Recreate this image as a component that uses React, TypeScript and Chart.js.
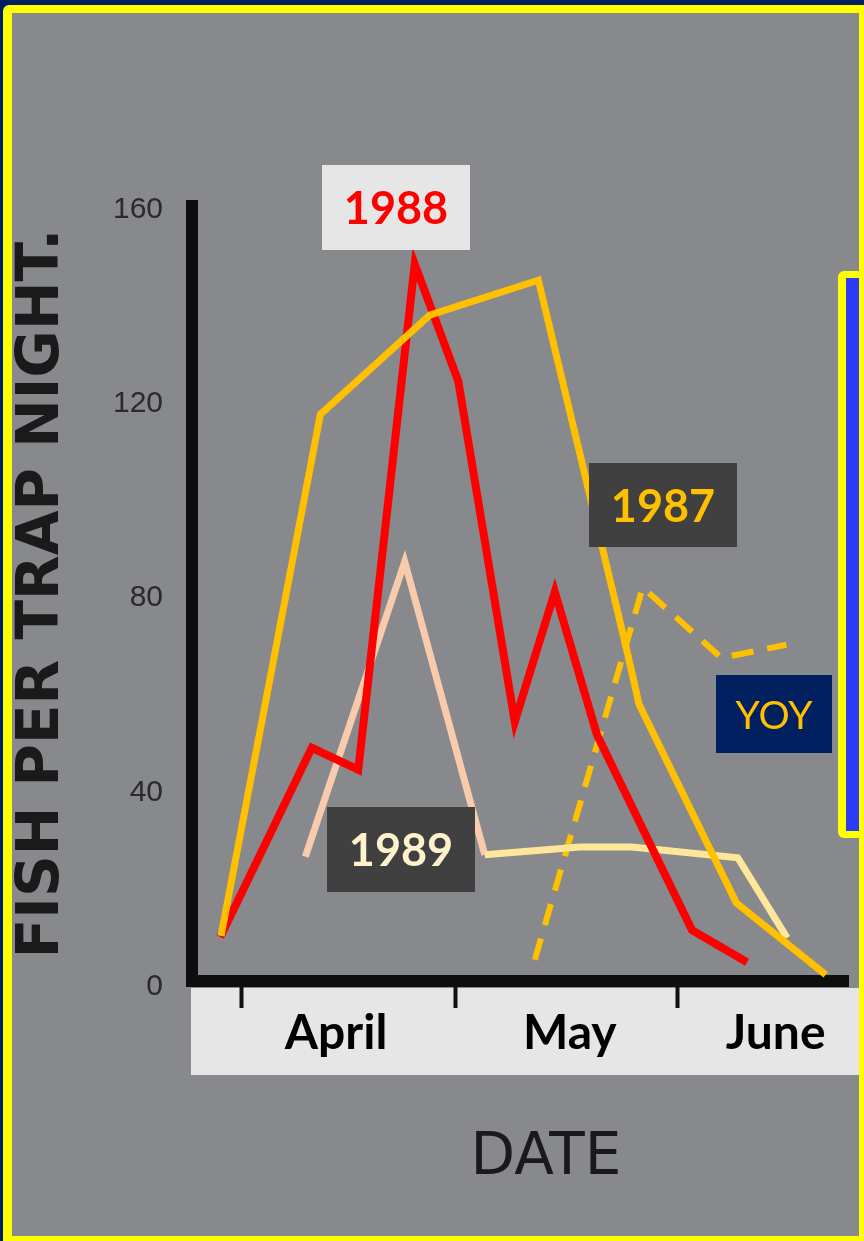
import { useEffect, useRef } from 'react';
import { Chart, registerables } from 'chart.js';

Chart.register(...registerables);

// x values are days counted from 1 April
const monthStartDays = [0, 30, 61];
const monthNames = ['April', 'May', 'June'];
const monthLabelDays = [13.3, 46.0, 74.8];
const yTickValues = [0, 40, 80, 120, 160];

const days1987 = [-2.8, 11.1, 26.4, 41.6, 53.7, 55.7, 69.3, 81.8];
const fish1987 = [10.5, 117.8, 138.2, 145.4, 71.0, 58.1, 17.3, 2.5];

const days1988 = [-2.9, 9.9, 16.4, 24.3, 30.4, 38.3, 43.9, 49.8, 63.1, 70.8];
const fish1988 = [10.3, 49.2, 44.7, 148.7, 124.6, 54.6, 81.3, 51.9, 11.7, 5.1];

const days1989 = [9.0, 22.9, 34.1, 47.4, 54.7, 69.5, 76.4];
const fish1989 = [26.8, 87.5, 27.2, 28.8, 28.8, 26.6, 10.1];

const daysYOY = [41.1, 56.2, 67.2, 76.3];
const fishYOY = [5.6, 82.2, 67.7, 70.4];

const X_MIN = -6.86;
const X_MAX = 85.06;
const Y_MIN = 0;
const Y_MAX = 161.9;

const pts = (xs: number[], ys: number[]) => xs.map((x, i) => ({ x, y: ys[i] }));

export default function App() {
  const ref = useRef<HTMLCanvasElement>(null);

  useEffect(() => {
    const canvas = ref.current;
    if (!canvas) return;

    const framePlugin = {
      id: 'frame',
      beforeDraw(chart: any) {
        const { ctx, width, height } = chart;
        ctx.save();
        ctx.fillStyle = '#002060';
        ctx.fillRect(0, 0, width, height);
        ctx.fillStyle = '#ffff00';
        ctx.beginPath();
        ctx.roundRect(3, 5, width + 10, height + 10, 6);
        ctx.fill();
        ctx.fillStyle = '#87898d';
        ctx.fillRect(12, 13, 847, 1223);
        // month label band
        ctx.fillStyle = '#e6e6e6';
        ctx.fillRect(191, 988, 668, 87);
        // blue side panel
        ctx.fillStyle = '#ffff00';
        ctx.beginPath();
        ctx.roundRect(838, 271, 40, 567, 6);
        ctx.fill();
        ctx.fillStyle = '#2a3df5';
        ctx.fillRect(846, 278, 13, 553);
        ctx.restore();
      },
      beforeDatasetsDraw(chart: any) {
        const { ctx, chartArea: ca } = chart;
        ctx.save();
        ctx.fillStyle = '#0e0e0e';
        ctx.fillRect(ca.left - 6, ca.top, 12, ca.bottom - ca.top);
        ctx.fillRect(ca.left - 6, ca.bottom - 12, ca.right - ca.left + 6, 12);
        ctx.restore();
      },
      afterDraw(chart: any) {
        const { ctx } = chart;
        ctx.save();
        const box = (x: number, y: number, w: number, h: number, fill: string, text: string, color: string, font: string) => {
          ctx.fillStyle = fill;
          ctx.fillRect(x, y, w, h);
          ctx.fillStyle = color;
          ctx.font = font;
          ctx.textAlign = 'center';
          ctx.textBaseline = 'middle';
          ctx.fillText(text, x + w / 2, y + h / 2 + 2);
        };
        box(322, 165, 148, 85, '#e7e6e6', '1988', '#ff0000', 'bold 45px Lato');
        box(589, 463, 148, 84, '#404040', '1987', '#ffc000', 'bold 45px Lato');
        box(327, 807, 148, 85, '#404040', '1989', '#fff2cc', 'bold 45px Lato');
        box(716, 675, 116, 78, '#002060', 'YOY', '#ffc000', '39px Lato');
        // x-axis title
        ctx.fillStyle = '#1a1a1a';
        ctx.font = '58px "DejaVu Sans"';
        ctx.textAlign = 'center';
        ctx.textBaseline = 'middle';
        ctx.fillText('DATE', 546, 1159);
        ctx.restore();
      },
    };

    const chart = new Chart(canvas, {
      type: 'line',
      data: {
        datasets: [
          {
            label: '1987',
            data: pts(days1987, fish1987),
            borderColor: '#ffc000',
            borderWidth: 7,
            pointRadius: 0,
            tension: 0,
          },
          {
            label: '1988',
            data: pts(days1988, fish1988),
            borderColor: '#ff0000',
            borderWidth: 8,
            pointRadius: 0,
            tension: 0,
          },
          {
            label: '1989',
            data: pts(days1989, fish1989),
            borderColor: '#f8cbad',
            borderWidth: 7,
            pointRadius: 0,
            tension: 0,
            segment: {
              borderColor: (c: any) => (c.p0DataIndex < 2 ? '#f8cbad' : '#ffe699'),
            },
          },
          {
            label: 'YOY',
            data: pts(daysYOY, fishYOY),
            borderColor: '#ffc000',
            borderWidth: 6,
            borderDash: [22, 14],
            pointRadius: 0,
            tension: 0,
          },
        ],
      },
      options: {
        animation: false,
        responsive: false,
        devicePixelRatio: 1,
        layout: { padding: { left: 0, top: 200, right: 15, bottom: 166 } },
        plugins: { legend: { display: false }, tooltip: { enabled: false } },
        scales: {
          x: {
            type: 'linear',
            position: 'bottom',
            weight: 0,
            min: X_MIN,
            max: X_MAX,
            afterBuildTicks: (s: any) => {
              s.ticks = monthStartDays.map((v) => ({ value: v }));
            },
            afterFit: (s: any) => {
              s.height = 0;
            },
            ticks: { display: false },
            grid: {
              drawOnChartArea: false,
              drawTicks: true,
              tickLength: 21,
              tickWidth: 4,
              tickColor: '#111111',
            },
            border: { display: false },
          },
          x2: {
            type: 'linear',
            position: 'bottom',
            weight: 1,
            min: X_MIN,
            max: X_MAX,
            afterBuildTicks: (s: any) => {
              s.ticks = monthLabelDays.map((v) => ({ value: v }));
            },
            afterFit: (s: any) => {
              s.height = 88;
            },
            ticks: {
              autoSkip: false,
              maxRotation: 0,
              padding: 18,
              color: '#000000',
              font: { family: 'Lato', size: 48, weight: 'bold' },
              callback: (_v: any, i: number) => monthNames[i] ?? '',
            },
            grid: { display: false, drawTicks: false },
            border: { display: false },
          },
          y: {
            type: 'linear',
            position: 'left',
            min: Y_MIN,
            max: Y_MAX,
            afterBuildTicks: (s: any) => {
              s.ticks = yTickValues.map((v) => ({ value: v }));
            },
            afterFit: (s: any) => {
              s.width = 192;
            },
            ticks: {
              padding: 29,
              color: '#2a2a2a',
              font: { family: 'Liberation Sans', size: 30 },
            },
            grid: { display: false, drawTicks: false },
            border: { display: false },
            title: {
              display: true,
              text: 'FISH PER TRAP NIGHT.',
              color: '#1a1a1a',
              font: { family: 'DejaVu Sans', size: 58, weight: 'bold' },
              padding: { top: 8, bottom: 0 },
            },
          },
        },
      },
      plugins: [framePlugin],
    } as any);

    return () => chart.destroy();
  }, []);

  return (
    <div style={{ position: 'absolute', left: 0, top: 0, width: 864, height: 1241 }}>
      <canvas ref={ref} width={864} height={1241} style={{ display: 'block' }} />
    </div>
  );
}
